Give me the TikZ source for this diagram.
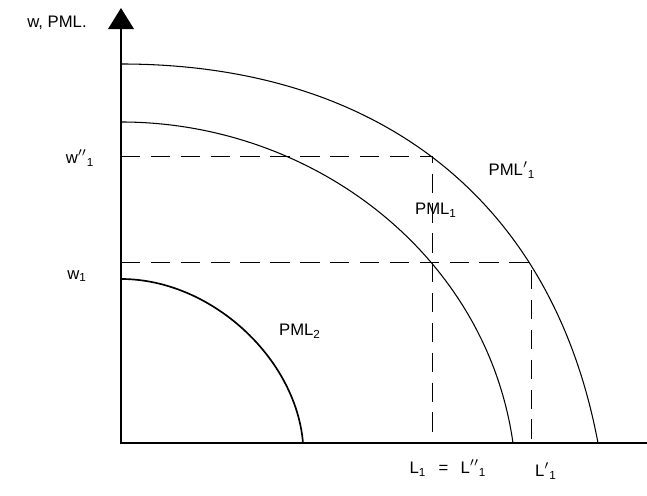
\documentclass[tikz,border=0pt]{standalone}
\usepackage{fontspec}
\setmainfont{Liberation Sans}
\usetikzlibrary{arrows.meta}
\tikzset{
  axis/.style={line width=1.4pt},
  pml/.style={line width=0.6pt},
  pmlbold/.style={line width=0.95pt},
  guide/.style={line width=0.55pt, dash pattern=on 11pt off 6pt},
  lbl/.style={font=\fontsize{9.5}{11.4}\selectfont, inner sep=0pt},
}
\begin{document}
\begin{tikzpicture}[x=0.02cm,y=0.02cm]
  \useasboundingbox (-121,-53) rectangle (526,443);

  % axes
  \coordinate (O) at (0,0);
  \coordinate (ytop) at (0,435);
  \coordinate (xend) at (526,0);
  \draw[axis,{Triangle[length=12pt,width=14.5pt]}-] (ytop) -- (O) -- (xend);

  % the three curves
  \draw[pml] (0,379) .. controls (250,379) and (430,250) .. (477,0);
  \draw[pml] (0,321) .. controls (190,321) and (365,190) .. (392,0);
  \draw[pmlbold] (0,164) .. controls (90,164) and (175,85) .. (182,0);

  % guide lines
  \coordinate (w2) at (0,287);
  \coordinate (w1) at (0,181);
  \coordinate (a) at (311,287);
  \coordinate (b) at (410,181);
  \coordinate (L1) at (311,0);
  \coordinate (L1p) at (410,0);
  \draw[guide] (w2) -- (a) -- (L1);
  \draw[guide] (w1) -- (b) -- (L1p);

  % labels
  \node[lbl] (yname) at (-64,420) {w, PML.};
  \node[lbl] (lw2) at (-41,285) {w$''$\textsubscript{1}};
  \node[lbl] (lw1) at (-44,167) {w\textsubscript{1}};
  \node[lbl] (lpmlp) at (391,273) {PML$'$\textsubscript{1}};
  \node[lbl] (lpml1) at (315,233) {PML\textsubscript{1}};
  \node[lbl] (lpml2) at (179,112) {PML\textsubscript{2}};
  \node[lbl] (lL1) at (327,-25) {L\textsubscript{1}\hspace{7pt}=\hspace{7pt}L$''$\textsubscript{1}};
  \node[lbl] (lL1p) at (425,-28) {L$'$\textsubscript{1}};
\end{tikzpicture}
\end{document}
